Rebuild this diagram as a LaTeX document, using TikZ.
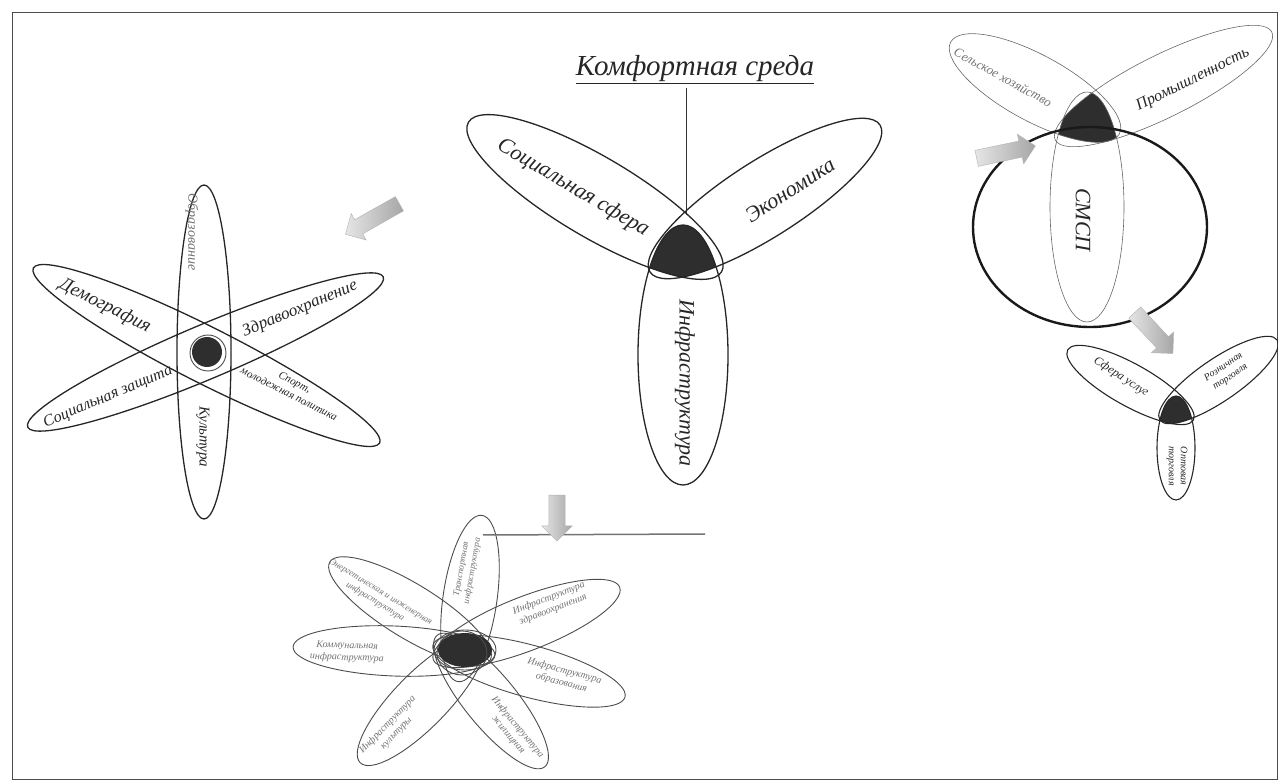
\documentclass[tikz,border=0pt]{standalone}
\usepackage{fontspec}
\setmainfont{Liberation Serif}
\usepackage{tikz}
\usetikzlibrary{shapes.arrows}

\begin{document}
\begin{tikzpicture}[x=1pt,y=-1pt,
 pet/.style={draw=black!85,line width=1.3pt},
 petl/.style={draw=black!70,line width=0.9pt},
 pett/.style={draw=black!60,line width=0.6pt},
 blob/.style={fill=black!82},
 lab/.style={font=\itshape\fontsize{#1}{#1}\selectfont,text=black!85,align=center,inner sep=0pt},
 labl/.style={lab=#1,text=black!55},
 blk/.style={single arrow,draw=gray!60,left color=gray!20,right color=gray!70,
 minimum height=#1,inner xsep=0pt,inner ysep=8pt,single arrow head extend=7pt}]
 \useasboundingbox (0,0) rectangle (1278,783);
 \draw[black!70,line width=0.8pt] (12,12) rectangle (1277,779);

 \node[font=\itshape\fontsize{29}{29}\selectfont,text=black!85] (ttl) at (695,70) {\underline{Комфортная среда}};
 \coordinate (ctop) at (686,215);
 \draw[black!80,line width=0.6pt] (ttl.south) ++(-9,0) coordinate (tl) (tl) -- (ctop);

 \begin{scope}
  \clip[rotate around={-30.6:(595,197)}] (595,197) ellipse (147 and 40);
  \clip[rotate around={32.6:(765,198.5)}] (765,198.5) ellipse (136.5 and 38);
  \fill[blob] (683,355) ellipse (45 and 130);
 \end{scope}
 \draw[pet,rotate around={-30.6:(595,197)}] (595,197) ellipse (147 and 40);
 \draw[pet,rotate around={32.6:(765,198.5)}] (765,198.5) ellipse (136.5 and 38);
 \draw[pet] (683,355) ellipse (45 and 130);
 \node[lab=22,rotate=-30.6] (soc) at (573,188) {Социальная сфера};
 \node[lab=22,rotate=32.6] (eco) at (790,190) {Экономика};
 \node[lab=22,rotate=-90] (inf) at (685,383) {Инфраструктура};

 \draw[pet] (204,352) ellipse (27 and 167);
 \draw[pet,rotate around={-26.8:(206.5,355.5)}] (206.5,355.5) ellipse (194 and 28);
 \draw[pet,rotate around={22.9:(205.5,352)}] (205.5,352) ellipse (193 and 27);
 \fill[blob] (207,352) circle (15);
 \draw[petl] (208,353) circle (18);
 \node[labl=14,rotate=-90] (obr) at (192,232) {Образование};
 \node[lab=15,rotate=-90] (kul) at (203,437) {Культура};
 \node[lab=19,rotate=-26.8] (dem) at (105,306) {Демография};
 \node[lab=11,rotate=-26.8] (spo) at (292,388) {Спорт,\\[2pt]молодежная политика};
 \node[lab=17,rotate=22.9] (zdr) at (300,309) {Здравоохранение};
 \node[lab=16,rotate=22.9] (szh) at (108,397) {Социальная защита};

 \draw[petl,rotate around={-98.2:(470,598.5)}] (470,598.5) ellipse (84 and 27);
 \draw[petl,rotate around={-31.5:(410,611)}] (410,611) ellipse (94 and 27);
 \draw[petl,rotate around={-2.3:(394,651)}] (394,651) ellipse (101 and 25);
 \draw[petl,rotate around={21.3:(526.5,623.5)}] (526.5,623.5) ellipse (100 and 27);
 \draw[petl,rotate around={-15.2:(529,671)}] (529,671) ellipse (99.5 and 26);
 \draw[petl,rotate around={-50.7:(491,701)}] (491,701) ellipse (85 and 26);
 \draw[petl,rotate around={45.7:(421,700.5)}] (421,700.5) ellipse (87 and 27);
 \fill[blob] (465,650) ellipse (27 and 17);
 \draw[petl] (465,650) ellipse (31 and 20);
 \draw[petl] (462,653) ellipse (25 and 22);
 \node[labl=9,rotate=80] (tra) at (467,570) {Транспортная\\[2pt]инфраструктура};
 \node[labl=9,rotate=-31.5] (ene) at (378,597) {Энергетическая и инженерная\\[2pt]инфраструктура};
 \node[labl=10,rotate=-2] (kom) at (347,652) {Коммунальная\\[2pt]инфраструктура};
 \node[labl=10,rotate=21] (izd) at (551,604) {Инфраструктура\\[2pt]здравоохранения};
 \node[labl=10,rotate=-15] (iob) at (563,677) {Инфраструктура\\[2pt]образования};
 \node[labl=10,rotate=-50] (izh) at (513,731) {Инфраструктура\\[2pt]жилищная};
 \node[labl=10,rotate=46] (iku) at (392,729) {Инфраструктура\\[2pt]культуры};
 \draw[black!55,line width=1.5pt] (483,535) -- (705,534);

 \begin{scope}
  \clip[rotate around={-28.6:(1035,88)}] (1035,88) ellipse (96 and 33);
  \clip[rotate around={26.5:(1163.5,86)}] (1163.5,86) ellipse (121 and 31);
  \fill[blob] (1087,207) ellipse (37 and 115);
 \end{scope}
 \draw[pett,rotate around={-28.6:(1035,88)}] (1035,88) ellipse (96 and 33);
 \draw[pett,rotate around={26.5:(1163.5,86)}] (1163.5,86) ellipse (121 and 31);
 \draw[pett] (1087,207) ellipse (37 and 115);
 \draw[black!90,line width=2.4pt] (1090,227) ellipse (117 and 100);
 \node[labl=13,rotate=-28.6] (sel) at (1003,77) {Сельское хозяйство};
 \node[lab=16,rotate=26.5] (pro) at (1193,80) {Промышленность};
 \node[lab=22,rotate=-90] (smsp) at (1083,220) {СМСП};

 \begin{scope}
  \clip[rotate around={-29.2:(1130.5,385)}] (1130.5,385) ellipse (72 and 21);
  \clip[rotate around={34.4:(1218.5,380)}] (1218.5,380) ellipse (71 and 21);
  \fill[blob] (1176,448) ellipse (19 and 52);
 \end{scope}
 \draw[pet,line width=1.1pt,rotate around={-29.2:(1130.5,385)}] (1130.5,385) ellipse (72 and 21);
 \draw[pet,line width=1.1pt,rotate around={34.4:(1218.5,380)}] (1218.5,380) ellipse (71 and 21);
 \draw[pet,line width=1.1pt] (1176,448) ellipse (19 and 52);
 \node[lab=12,rotate=-33] (usl) at (1121,377) {Сфера услуг};
 \node[lab=10,rotate=34] (roz) at (1227,372) {Розничная\\[2pt]торговля};
 \node[lab=10,rotate=-90] (opt) at (1177,466) {Оптовая\\[2pt]торговля};

 \node[blk=62pt,rotate=209.5] (ar1) at (376,217) {};
 \node[blk=46pt,rotate=-90] (ar2) at (557,514) {};
 \node[blk=60pt,rotate=12] (ar3) at (1002,153) {};
 \node[blk=56pt,rotate=-47] (ar4) at (1151,330) {};
\end{tikzpicture}
\end{document}
